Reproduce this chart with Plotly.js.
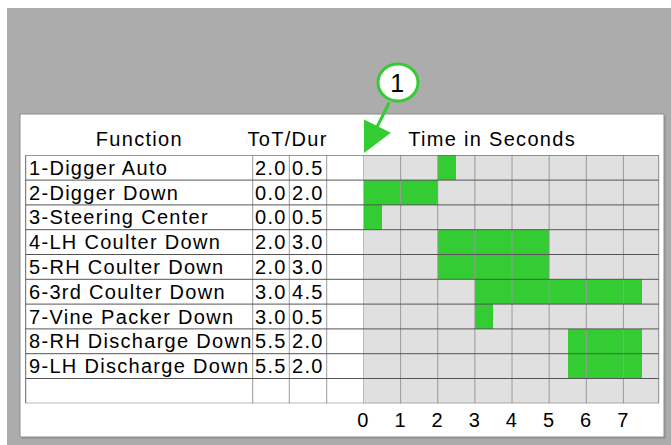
<!DOCTYPE html>
<html><head><meta charset="utf-8">
<script src="https://cdn.plot.ly/plotly-3.0.1.min.js"></script>
<style>
html,body{margin:0;padding:0;background:#fff;}
#chart{width:671px;height:445px;}
#chart text{letter-spacing:1.3px;}
</style></head><body><div id="chart"></div>
<script>
// ---- data ----
const functions = ["1-Digger Auto","2-Digger Down","3-Steering Center","4-LH Coulter Down","5-RH Coulter Down","6-3rd Coulter Down","7-Vine Packer Down","8-RH Discharge Down","9-LH Discharge Down"];
const tot = [2.0,0.0,0.0,2.0,2.0,3.0,3.0,5.5,5.5];
const dur = [0.5,2.0,0.5,3.0,3.0,4.5,0.5,2.0,2.0];
const timeTicks = [0,1,2,3,4,5,6,7];
const headers = ["Function","ToT/Dur","Time in Seconds"];
const calloutLabel = "1";

// ---- layout geometry (pixels) ----
const W = 671, H = 445;
const fx = p => p / W, fy = p => 1 - p / H;
const gridX0 = 363.5, gridX1 = 658.7, rowTop = 155.3, rowBot = 403.3;
const timeMax = 7.95;
const tableLeft = 25.7;
const colBounds = [25.7, 252.7, 289.3, 326.7];
const nRows = functions.length + 1;
const FONT = '"Liberation Sans", Arial, sans-serif';
const fs = 20;
const green = '#33cc33';
const txtFont = {family:FONT, size:fs, color:'#000'};

const idx = functions.map((_, i) => i);

const traces = [
  { type:'bar', orientation:'h', y: idx, x: dur, base: tot, width: 1,
    marker:{color:green, line:{width:0}}, xaxis:'x', yaxis:'y', hoverinfo:'skip' }
];

const shapes = [];
// gray backdrop
shapes.push({type:'rect', xref:'paper', yref:'paper', x0:fx(7), x1:1, y0:0, y1:fy(8), fillcolor:'#acacac', line:{width:0}, layer:'below'});
// panel shadow + panel
shapes.push({type:'rect', xref:'paper', yref:'paper', x0:fx(22), x1:fx(666), y0:fy(439), y1:fy(116), fillcolor:'#999999', line:{width:0}, layer:'below'});
shapes.push({type:'rect', xref:'paper', yref:'paper', x0:fx(20), x1:fx(664), y0:fy(437), y1:fy(114), fillcolor:'#ffffff', line:{width:1,color:'#8c8c8c'}, layer:'below'});
// grid fill
shapes.push({type:'rect', xref:'x domain', yref:'y domain', x0:0, x1:1, y0:0, y1:1, fillcolor:'#e0e0e0', line:{width:0}, layer:'below'});
// vertical grid lines
timeTicks.forEach(t => {
  shapes.push({type:'line', xref:'x', yref:'y domain', x0:t, x1:t, y0:0, y1:1, line:{color: t===0 ? '#8a8a8a' : '#9a9a9a', width:1}, layer:'above'});
});
shapes.push({type:'line', xref:'x domain', yref:'y domain', x0:1, x1:1, y0:0, y1:1, line:{color:'#8a8a8a', width:1}, layer:'above'});
// table vertical lines
colBounds.forEach((c, k) => {
  shapes.push({type:'line', xref:'paper', yref:'y domain', x0:fx(c), x1:fx(c), y0:0, y1:1, line:{color: k===0 ? '#666666' : '#9a9a9a', width:1}, layer:'above'});
});
// horizontal row lines
for (let k = 0; k <= nRows; k++) {
  shapes.push({type:'line', xref:'paper', yref:'y', x0:fx(tableLeft), x1:fx(gridX1), y0:k-0.5, y1:k-0.5, line:{color:'#555555', width:1}, layer:'above'});
}
// callout circle
shapes.push({type:'circle', xref:'paper', yref:'paper', x0:fx(378), x1:fx(418), y0:fy(101), y1:fy(64), fillcolor:'#ffffff', line:{color:green, width:3}, layer:'above'});

const annotations = [];
functions.forEach((f, i) => {
  annotations.push({xref:'paper', yref:'y', x:fx(tableLeft+1), y:i, xanchor:'left', yanchor:'middle', align:'left', text:f, showarrow:false, font:txtFont});
  annotations.push({xref:'paper', yref:'y', x:fx((colBounds[1]+colBounds[2])/2), y:i, xanchor:'center', yanchor:'middle', text:tot[i].toFixed(1), showarrow:false, font:txtFont});
  annotations.push({xref:'paper', yref:'y', x:fx((colBounds[2]+colBounds[3])/2), y:i, xanchor:'center', yanchor:'middle', text:dur[i].toFixed(1), showarrow:false, font:txtFont});
});
const headerX = [139, 287, 492.5];
headers.forEach((h, k) => {
  annotations.push({xref:'paper', yref:'paper', x:fx(headerX[k]), y:fy(138.5), xanchor:'center', yanchor:'middle', text:h, showarrow:false, font:txtFont});
});
// arrow
annotations.push({xref:'paper', yref:'paper', x:fx(364), y:fy(153), ax:26, ay:-52, text:'', showarrow:true,
  arrowhead:2, arrowsize:2.0, arrowwidth:3, arrowcolor:green, standoff:0});
annotations.push({xref:'paper', yref:'paper', x:fx(398), y:fy(83), xanchor:'center', yanchor:'middle', text:calloutLabel, showarrow:false, font:{family:FONT,size:25,color:'#000'}});

const layout = {
  width: W, height: H, autosize:false,
  margin:{l:0,r:0,t:0,b:0,pad:0},
  paper_bgcolor:'#ffffff', plot_bgcolor:'rgba(0,0,0,0)',
  showlegend:false,
  font:{family:FONT, color:'#000'},
  xaxis:{domain:[fx(gridX0), fx(gridX1)], range:[0, timeMax], tickvals: timeTicks, ticktext: timeTicks.map(String),
    showgrid:false, zeroline:false, showline:false, ticks:'', ticklabelstandoff:3,
    tickfont:txtFont, anchor:'y', fixedrange:true},
  yaxis:{domain:[fy(rowBot), fy(rowTop)], range:[nRows-0.5, -0.5], visible:false, fixedrange:true},
  bargap:0,
  shapes, annotations
};

Plotly.newPlot('chart', traces, layout, {displayModeBar:false, staticPlot:true});
</script></body></html>
